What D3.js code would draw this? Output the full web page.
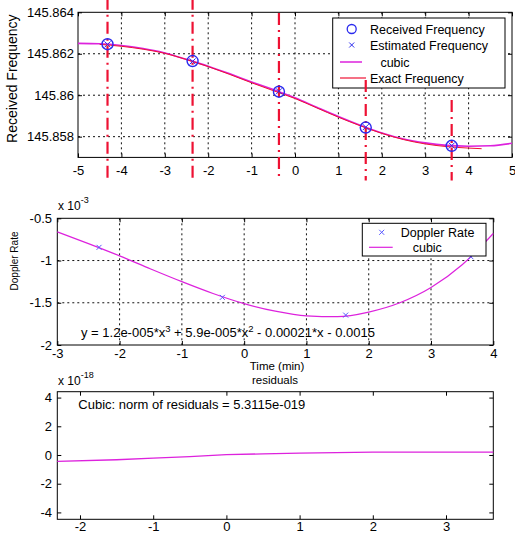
<!DOCTYPE html>
<html>
<head>
<meta charset="utf-8">
<script src="https://cdn.jsdelivr.net/npm/d3@7"></script>
<style>
	body { margin: 0; background: #fff; }
	svg text { font-family: "Liberation Sans", Arial, sans-serif; fill: #000; }
</style>
</head>
<body>
<svg id="fig" width="515" height="535"></svg>
<script>

// ---- top panel: received / estimated / exact frequency
var recvTime = [-4.32, -2.36, -0.37, 1.63, 3.61];
var recvFreq = [145.86246, 145.86165, 145.86017, 145.85844, 145.85756];
var estFreq = [145.86245, 145.86163, 145.86019, 145.85846, 145.85757];
var cubicTime = [-5, -4.5, -4, -3.5, -3, -2.5, -2, -1.5, -1, -0.5, 0, 0.5, 1, 1.5, 2, 2.5, 3, 3.5, 4, 4.5, 5];
var cubicFreq = [145.86250, 145.86248, 145.86240, 145.86225, 145.86204, 145.86173, 145.86140, 145.86103,
	145.86064, 145.86027, 145.85988, 145.85942, 145.85897, 145.85855, 145.85818, 145.85789, 145.85770,
	145.85758, 145.85754, 145.85756, 145.85768];
var exactTime = [-4.5, -4, -3.5, -3, -2.5, -2, -1.5, -1, -0.5, 0, 0.5, 1, 1.5, 2, 2.5, 3, 3.5, 4, 4.3];
var exactFreq = [145.86245, 145.86236, 145.86222, 145.86202, 145.86172, 145.86138, 145.86100, 145.86060,
	145.86022, 145.85984, 145.85939, 145.85894, 145.85853, 145.85816, 145.85786, 145.85765, 145.85752,
	145.85745, 145.85742];
// vertical sample markers (top / bottom of each dash-dot line)
var markTop = [145.8647, 145.8647, 145.86397, 145.86074, 145.85977];
var markBottom = 145.85588;
var freqTicksX = [-5, -4, -3, -2, -1, 0, 1, 2, 3, 4, 5];
var freqTicksY = [145.858, 145.86, 145.862, 145.864];
var freqLegend = ["Received Frequency", "Estimated Frequency", "   cubic", "Exact Frequency"];

// ---- middle panel: doppler rate
var rateTime = [-2.33, -0.35, 1.63, 3.64];
var rateValue = [-0.000844, -0.001436, -0.001646, -0.000955];
var rateFitTime = [-3, -2.5, -2, -1.5, -1, -0.5, 0, 0.5, 1, 1.5, 2, 2.5, 3, 3.5, 4];
var rateFitValue = [-0.00066, -0.00080, -0.000945, -0.00110, -0.00125, -0.00139, -0.00151, -0.00160,
	-0.001655, -0.001665, -0.00161, -0.00150, -0.00132, -0.00105, -0.00068];
var rateTicksX = [-3, -2, -1, 0, 1, 2, 3, 4];
var rateTicksY = [-0.002, -0.0015, -0.001, -0.0005];
var rateLegend = ["Doppler Rate", "cubic"];

// ---- bottom panel: residuals
var residTime = [-2.31, -1.5, -1, -0.5, 0, 0.5, 1, 1.5, 2, 2.5, 3, 3.646];
var residValue = [-0.45e-18, -0.33e-18, -0.22e-18, -0.12e-18, 0.03e-18, 0.08e-18, 0.13e-18, 0.17e-18,
	0.2e-18, 0.2e-18, 0.2e-18, 0.2e-18];
var residTicksX = [-2, -1, 0, 1, 2, 3];
var residTicksY = [-4e-18, -2e-18, 0, 2e-18, 4e-18];

var svg = d3.select("#fig");
var MAGENTA = "#dd22dd", RED = "#ee1133", BLUE = "#2a2aee";

function makeAxes(g, x, y, xTicks, yTicks, o) {
	var left = x.range()[0], right = x.range()[1],
		top = y.range()[1], bottom = y.range()[0];

	if (o.grid) {
		g.selectAll("line.vgrid")
			.data(xTicks.filter(d => x(d) > left + 1 && x(d) < right - 1)).enter()
			.append("line").attr("class", "vgrid")
			.attr("x1", d => x(d)).attr("x2", d => x(d))
			.attr("y1", top).attr("y2", bottom)
			.attr("stroke", "#111").attr("stroke-dasharray", "2,3");
		g.selectAll("line.hgrid")
			.data(yTicks.filter(d => y(d) > top + 1 && y(d) < bottom - 1)).enter()
			.append("line").attr("class", "hgrid")
			.attr("x1", left).attr("x2", right)
			.attr("y1", d => y(d)).attr("y2", d => y(d))
			.attr("stroke", "#111").attr("stroke-dasharray", "2,3");
	}

	var ax = [
		[d3.axisBottom(x).tickValues(xTicks).tickFormat(o.fx).tickPadding(o.padX), bottom, 0],
		[d3.axisTop(x).tickValues(xTicks).tickFormat(""), top, 0],
		[d3.axisLeft(y).tickValues(yTicks).tickFormat(o.fy).tickPadding(o.padY), 0, left],
		[d3.axisRight(y).tickValues(yTicks).tickFormat(""), 0, right]
	];
	ax.forEach(a => {
		var ag = g.append("g")
			.attr("transform", "translate(" + a[2] + "," + a[1] + ")")
			.call(a[0].tickSizeInner(-4).tickSizeOuter(0));
		ag.select(".domain").remove();
		ag.attr("font-family", null).attr("font-size", o.fontSize);
		ag.selectAll("line").attr("stroke", "#000");
		ag.selectAll("text").attr("fill", "#000");
	});

	g.append("rect")
		.attr("x", left).attr("y", top)
		.attr("width", right - left).attr("height", bottom - top)
		.attr("fill", "none").attr("stroke", "#000");
}

function crossPath(cx, cy, s) {
	return "M" + (cx - s) + "," + (cy - s) + "L" + (cx + s) + "," + (cy + s) +
		"M" + (cx - s) + "," + (cy + s) + "L" + (cx + s) + "," + (cy - s);
}

function makeExponent(g, xPos, yPos, exp) {
	var t = g.append("text").attr("x", xPos).attr("y", yPos).attr("font-size", 12);
	t.append("tspan").text("x 10");
	t.append("tspan").attr("dy", -7).attr("font-size", 9).text(exp);
}

function makeFreqPanel() {
	var x = d3.scaleLinear().domain([-5, 5]).range([78, 512]);
	var y = d3.scaleLinear().domain([145.857, 145.864]).range([157.4, 12.3]);
	var g = svg.append("g");

	makeAxes(g, x, y, freqTicksX, freqTicksY, {
		grid: true, fontSize: 13, padX: 8.4, padY: 4,
		fx: d => d, fy: d => +d.toFixed(3)
	});

	var line = d3.line().curve(d3.curveMonotoneX);
	g.append("path")
		.attr("d", line(cubicTime.map((t, i) => [x(t), y(cubicFreq[i])])))
		.attr("fill", "none").attr("stroke", MAGENTA).attr("stroke-width", 1.6);
	g.append("path")
		.attr("d", line(exactTime.map((t, i) => [x(t), y(exactFreq[i])])))
		.attr("fill", "none").attr("stroke", RED).attr("stroke-width", 1);

	// legend
	var lg = g.append("g");
	lg.append("rect").attr("x", 332.7).attr("y", 18).attr("width", 172.3).attr("height", 70)
		.attr("fill", "#fff").attr("stroke", "#000");
	lg.append("circle").attr("cx", 351.7).attr("cy", 29).attr("r", 4.5)
		.attr("fill", "none").attr("stroke", BLUE).attr("stroke-width", 1.3);
	lg.append("path").attr("d", crossPath(351.7, 45, 2.5))
		.attr("stroke", BLUE).attr("stroke-width", 1);
	lg.append("line").attr("x1", 340).attr("x2", 362).attr("y1", 62).attr("y2", 62)
		.attr("stroke", MAGENTA).attr("stroke-width", 1.5);
	lg.append("line").attr("x1", 340).attr("x2", 366).attr("y1", 78).attr("y2", 78)
		.attr("stroke", RED).attr("stroke-width", 1.2);
	lg.selectAll("text").data(freqLegend).enter().append("text")
		.attr("x", 370).attr("y", (d, i) => [33.5, 49.5, 66.5, 82.5][i])
		.attr("font-size", 12.5).attr("xml:space", "preserve")
		.text(d => d);

	// dash-dot sample lines, drawn unclipped past the axes
	g.selectAll("line.mark").data(recvTime).enter()
		.append("line").attr("class", "mark")
		.attr("x1", d => x(d)).attr("x2", d => x(d))
		.attr("y1", (d, i) => y(markTop[i])).attr("y2", y(markBottom))
		.attr("stroke", RED).attr("stroke-width", 2.2)
		.attr("stroke-dasharray", "12,5,2,5");

	g.selectAll("circle.recv").data(recvTime).enter()
		.append("circle").attr("class", "recv")
		.attr("cx", d => x(d)).attr("cy", (d, i) => y(recvFreq[i]))
		.attr("r", 5.5).attr("fill", "none").attr("stroke", BLUE).attr("stroke-width", 1.4);
	g.selectAll("path.est").data(recvTime).enter()
		.append("path").attr("class", "est")
		.attr("d", (d, i) => crossPath(x(d), y(estFreq[i]), 3))
		.attr("stroke", BLUE).attr("stroke-width", 1);

	g.append("text")
		.attr("transform", "translate(17.3,78.7)rotate(-90)")
		.attr("text-anchor", "middle").attr("font-size", 14)
		.text("Received Frequency");
}

function makeRatePanel() {
	var x = d3.scaleLinear().domain([-3, 4]).range([57.3, 493.3]);
	var y = d3.scaleLinear().domain([-0.002, -0.0005]).range([345, 218.3]);
	var g = svg.append("g");

	makeAxes(g, x, y, rateTicksX, rateTicksY, {
		grid: true, fontSize: 13, padX: 4, padY: 5.3,
		fx: d => d, fy: d => +(d * 1e3).toFixed(1)
	});

	g.append("path")
		.attr("d", d3.line().curve(d3.curveMonotoneX)(rateFitTime.map((t, i) => [x(t), y(rateFitValue[i])])))
		.attr("fill", "none").attr("stroke", MAGENTA).attr("stroke-width", 1.2);
	g.selectAll("path.rate").data(rateTime).enter()
		.append("path").attr("class", "rate")
		.attr("d", (d, i) => crossPath(x(d), y(rateValue[i]), 2.5))
		.attr("stroke", "#5a5aff").attr("stroke-width", 1);

	var lg = g.append("g");
	lg.append("rect").attr("x", 362.3).attr("y", 223.3).attr("width", 123.7).attr("height", 32.7)
		.attr("fill", "#fff").attr("stroke", "#000");
	lg.append("path").attr("d", crossPath(381.7, 232.3, 2.5))
		.attr("stroke", "#5a5aff").attr("stroke-width", 1);
	lg.append("line").attr("x1", 369).attr("x2", 392.7).attr("y1", 247.3).attr("y2", 247.3)
		.attr("stroke", MAGENTA).attr("stroke-width", 1.2);
	lg.selectAll("text").data(rateLegend).enter().append("text")
		.attr("x", (d, i) => [400.7, 412.7][i]).attr("y", (d, i) => [236.8, 251.8][i])
		.attr("font-size", 12.5).text(d => d);

	// fitted equation
	var eq = g.append("text").attr("x", 81).attr("y", 336.5).attr("font-size", 13);
	eq.append("tspan").text("y = 1.2e-005*x");
	eq.append("tspan").attr("dy", -5).attr("font-size", 9.5).text("3");
	eq.append("tspan").attr("dy", 5).text(" + 5.9e-005*x");
	eq.append("tspan").attr("dy", -5).attr("font-size", 9.5).text("2");
	eq.append("tspan").attr("dy", 5).text(" - 0.00021*x - 0.0015");

	makeExponent(g, 58, 210, "-3");
	g.append("text")
		.attr("transform", "translate(17.5,261)rotate(-90)")
		.attr("text-anchor", "middle").attr("font-size", 10)
		.text("Doppler Rate");
	g.append("text").attr("x", 277).attr("y", 370)
		.attr("text-anchor", "middle").attr("font-size", 11.5)
		.text("Time (min)");
}

function makeResidPanel() {
	var x = d3.scaleLinear().domain([-2.31, 3.646]).range([57.3, 493.3]);
	var y = d3.scaleLinear().domain([-4.48e-18, 4.41e-18]).range([519.3, 391.7]);
	var g = svg.append("g");

	makeAxes(g, x, y, residTicksX, residTicksY, {
		grid: false, fontSize: 13, padX: 2.6, padY: 5.3,
		fx: d => d, fy: d => Math.round(d * 1e18)
	});

	g.append("path")
		.attr("d", d3.line()(residTime.map((t, i) => [x(t), y(residValue[i])])))
		.attr("fill", "none").attr("stroke", MAGENTA).attr("stroke-width", 1.3);

	g.append("text").attr("x", 78.3).attr("y", 409).attr("font-size", 13)
		.text("Cubic: norm of residuals = 5.3115e-019");
	makeExponent(g, 58, 385, "-18");
	g.append("text").attr("x", 275).attr("y", 384)
		.attr("text-anchor", "middle").attr("font-size", 11.5)
		.text("residuals");
}

makeFreqPanel();
makeRatePanel();
makeResidPanel();
</script>
</body>
</html>
